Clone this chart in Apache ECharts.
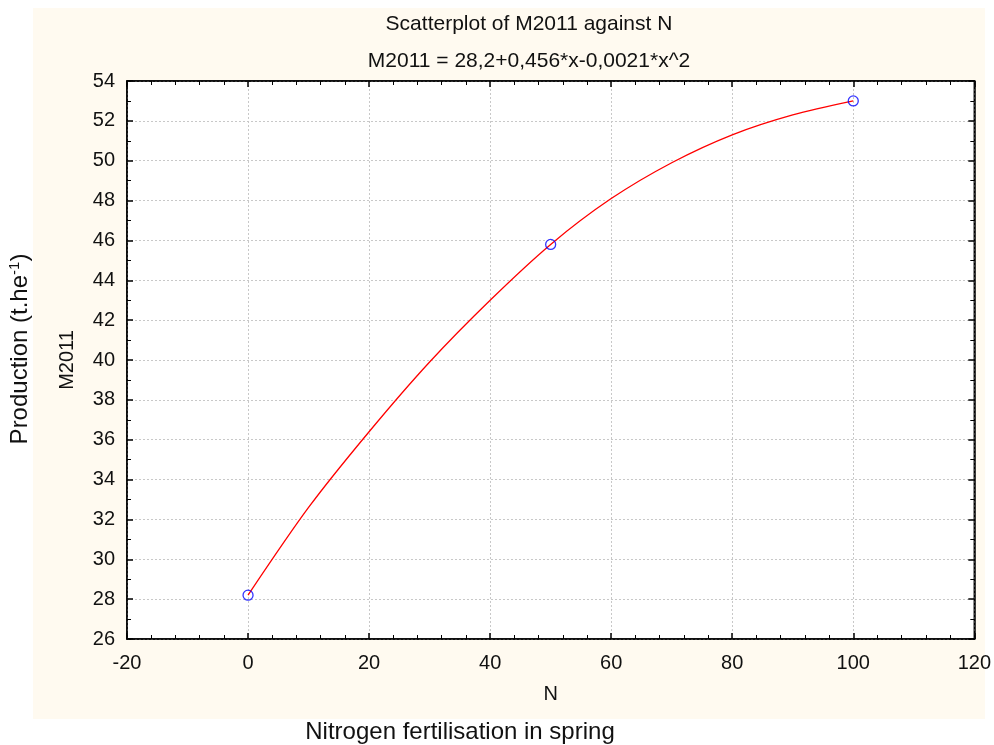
<!DOCTYPE html>
<html>
<head>
  <meta charset="utf-8">
  <title>Scatterplot of M2011 against N</title>
  <script src="https://cdn.jsdelivr.net/npm/echarts@6/dist/echarts.min.js"></script>
  <style>
    html, body { margin: 0; padding: 0; background: #fff; }
    #main { width: 994px; height: 745px; }
  </style>
</head>
<body>
<div id="main"></div>
<script type="text/javascript">
  // observed points (N dose, M2011 production)
  var pointN = [0, 50, 100];
  var pointM = [28.2, 45.8, 53.0];
  // fitted curve
  var curveN = [0, 10, 20, 30, 40, 50, 60, 70, 80, 90, 100];
  var curveM = [28.2, 32.6, 36.4, 39.9, 43.0, 45.8, 48.1, 49.9, 51.3, 52.3, 53.0];

  var font = "'Liberation Sans', Arial, sans-serif";

  var myChart = echarts.init(document.getElementById('main'));

  var pts = pointN.map(function (n, i) { return [n, pointM[i]]; });
  var curve = curveN.map(function (n, i) { return [n, curveM[i]]; });

  function axisBase(show) {
    return {
      axisLine: { show: true, onZero: false, lineStyle: { color: '#000', width: 1.5 } },
      axisTick: { show: true, inside: true, length: 6, lineStyle: { color: '#000', width: 1.5 } },
      minorTick: { show: true, length: 4, lineStyle: { color: '#000', width: 1 } },
      axisLabel: { show: show, color: '#111', fontSize: 20, fontFamily: font },
      splitLine: { show: false }
    };
  }

  var gridLine = { show: true, lineStyle: { color: '#c8c8c8', type: [2, 2], width: 1 } };

  var xMain = Object.assign(axisBase(true), {
    type: 'value', min: -20, max: 120, interval: 20, position: 'bottom',
    name: 'N', nameLocation: 'middle', nameGap: 45,
    nameTextStyle: { color: '#111', fontSize: 20, fontFamily: font }
  });
  xMain.minorTick.splitNumber = 5;
  xMain.axisLabel.margin = 14;
  xMain.splitLine = gridLine;

  var xTop = Object.assign(axisBase(false), {
    type: 'value', min: -20, max: 120, interval: 20, position: 'top'
  });
  xTop.minorTick.splitNumber = 5;

  var yMain = Object.assign(axisBase(true), {
    type: 'value', min: 26, max: 54, interval: 2, position: 'left',
    name: 'M2011', nameLocation: 'middle', nameGap: 50,
    nameTextStyle: { color: '#111', fontSize: 20, fontFamily: font }
  });
  yMain.minorTick.splitNumber = 2;
  yMain.axisLabel.margin = 12;
  yMain.splitLine = gridLine;

  var yRight = Object.assign(axisBase(false), {
    type: 'value', min: 26, max: 54, interval: 2, position: 'right'
  });
  yRight.minorTick.splitNumber = 2;

  var option = {
    backgroundColor: '#fff',
    animation: false,
    title: [
      { text: 'Scatterplot of M2011 against N', left: 524, top: 9, textAlign: 'center',
        textStyle: { color: '#111', fontSize: 21, fontWeight: 'normal', fontFamily: font } },
      { text: 'M2011 = 28,2+0,456*x-0,0021*x^2', left: 524, top: 46, textAlign: 'center',
        textStyle: { color: '#111', fontSize: 21, fontWeight: 'normal', fontFamily: font } }
    ],
    graphic: [
      { type: 'rect', z: -10, silent: true,
        shape: { x: 33, y: 8, width: 952, height: 711 },
        style: { fill: '#fffaf0' } },
      { type: 'text', x: 20, y: 349, rotation: Math.PI / 2, silent: true,
        style: {
          text: 'Production (t.he{sup|-1})', fill: '#111', fontSize: 24, fontFamily: font,
          align: 'center', verticalAlign: 'middle',
          rich: { sup: { fontSize: 15, fontFamily: font, fill: '#111', padding: [0, 0, 10, 0] } }
        } },
      { type: 'text', x: 460, y: 732, silent: true,
        style: {
          text: 'Nitrogen fertilisation in spring', fill: '#111', fontSize: 24, fontFamily: font,
          align: 'center', verticalAlign: 'middle'
        } }
    ],
    grid: {
      left: 127, top: 81, right: 18, bottom: 106,
      show: true, backgroundColor: '#fff', borderColor: '#000', borderWidth: 1.5
    },
    xAxis: [xMain, xTop],
    yAxis: [yMain, yRight],
    series: [
      {
        type: 'line', data: curve, smooth: 0.3, showSymbol: false, symbol: 'none',
        lineStyle: { color: '#ff0000', width: 1.3 }, z: 2
      },
      {
        type: 'scatter', data: pts, symbol: 'circle', symbolSize: 10,
        itemStyle: { color: 'rgba(0,0,0,0)', borderColor: '#0000ff', borderWidth: 1.3 }, z: 3
      }
    ]
  };

  myChart.setOption(option);
</script>
</body>
</html>
